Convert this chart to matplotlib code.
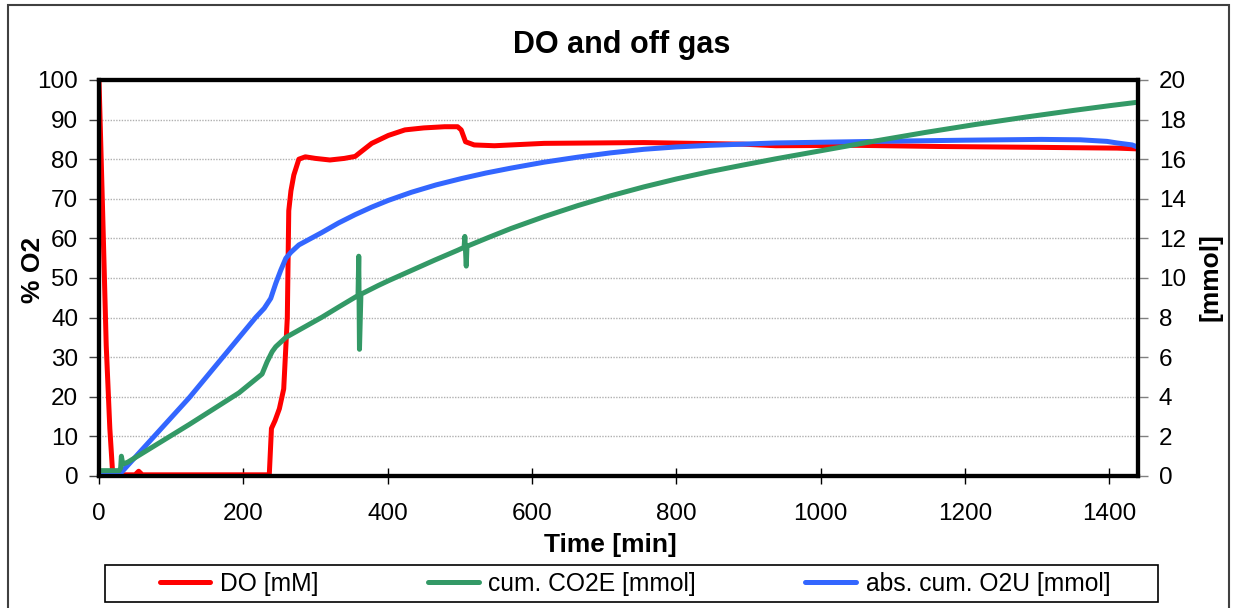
import matplotlib
matplotlib.use("Agg")
import matplotlib.pyplot as plt
from matplotlib.patches import Rectangle

# DO [%] on the left axis
do_time = [0, 5, 10, 15, 19, 25, 50, 55, 60, 100, 236, 239, 244, 250, 256, 261,
           263, 266, 270, 277, 286, 300, 320, 340, 355, 364, 378, 401, 424, 450,
           479, 497, 502, 508, 520, 548, 617, 755, 892, 938, 1050, 1168, 1300,
           1352, 1411, 1440]
do_value = [100, 67, 33, 12, 0.5, 0.3, 0.3, 1.2, 0.3, 0.3, 0.3, 12, 14, 17, 22, 40,
            67, 72, 76, 80, 80.6, 80.2, 79.8, 80.2, 80.7, 82, 84, 86, 87.4, 87.9,
            88.2, 88.2, 87.4, 84.4, 83.6, 83.4, 84, 84.2, 83.8, 83.4, 83.5, 83.2,
            83.0, 82.9, 82.8, 82.6]

# cumulative CO2 evolution [mmol], right axis
co2_time = [0, 28, 30, 31, 33, 40, 125, 194, 226, 233, 240, 245, 259, 286, 309,
            332, 355, 359, 360, 361, 363, 387, 401, 433, 465, 497, 506, 507, 509,
            510, 540, 571, 617, 663, 709, 755, 800, 846, 892, 938, 1007, 1076,
            1145, 1214, 1283, 1352, 1400, 1440]
co2_value = [0.27, 0.27, 0.4, 1.0, 0.6, 0.7, 2.6, 4.2, 5.15, 5.77, 6.28, 6.53, 7.0,
             7.55, 8.02, 8.53, 9.03, 9.12, 11.1, 6.4, 9.18, 9.62, 9.86, 10.38,
             10.9, 11.4, 11.55, 12.1, 10.6, 11.6, 12.05, 12.5, 13.1, 13.65, 14.15,
             14.6, 15.0, 15.37, 15.7, 16.02, 16.47, 16.92, 17.35, 17.75, 18.12,
             18.47, 18.7, 18.88]

# absolute cumulative O2 uptake [mmol], right axis
o2u_time = [0, 29, 125, 217, 229, 238, 245, 252, 259, 266, 277, 309, 332, 355, 378,
            401, 433, 467, 502, 536, 571, 617, 663, 709, 755, 800, 846, 938, 1076,
            1200, 1306, 1360, 1397, 1411, 1432, 1440]
o2u_value = [0.1, 0.1, 3.95, 8.0, 8.47, 8.97, 9.73, 10.4, 11.0, 11.3, 11.67, 12.3,
             12.78, 13.2, 13.58, 13.92, 14.33, 14.7, 15.02, 15.3, 15.55, 15.85,
             16.1, 16.32, 16.5, 16.62, 16.7, 16.82, 16.9, 16.96, 17.0, 16.98, 16.9,
             16.82, 16.72, 16.6]

x_ticks = [0, 200, 400, 600, 800, 1000, 1200, 1400]
left_ticks = list(range(0, 101, 10))
right_ticks = list(range(0, 21, 2))

plt.rcParams["font.family"] = ["Liberation Sans", "DejaVu Sans"]

W, H = 1237, 608
fig = plt.figure(figsize=(W / 100, H / 100), dpi=100)
ax = fig.add_axes([99 / W, 1 - 476 / H, (1138 - 99) / W, (476 - 80) / H])
ax2 = ax.twinx()

line_style = dict(lw=3.6, solid_capstyle="round", solid_joinstyle="round")
line_do, = ax.plot(do_time, do_value, color="#FF0000", label="DO [mM]",
                   **line_style)
line_o2u, = ax2.plot(o2u_time, o2u_value, color="#3366FF",
                     label="abs. cum. O2U [mmol]", **line_style)
line_co2, = ax2.plot(co2_time, co2_value, color="#339966",
                     label="cum. CO2E [mmol]", **line_style)

ax.set_xlim(0, 1440)
ax.set_ylim(0, 100)
ax2.set_ylim(0, 20)
ax.set_xticks(x_ticks)
ax.set_yticks(left_ticks)
ax2.set_yticks(right_ticks)

ax.grid(axis="y", color="#b0b0b0", linestyle=(0, (1, 1)), lw=1)
ax.set_axisbelow(True)

for a in (ax, ax2):
    for s in a.spines.values():
        s.set_linewidth(3)
        s.set_color("black")

ax.tick_params(axis="x", direction="inout", length=11, width=1,
               labelsize=17.5, pad=14, colors="black")
ax.tick_params(axis="y", direction="out", length=7, width=1,
               labelsize=17.5, pad=8, color="#404040")
ax2.tick_params(axis="y", direction="out", length=7, width=1,
                labelsize=17.5, pad=8, color="#808080")

fig.text(622 / W, 1 - 45 / H, "DO and off gas", ha="center", va="center",
         fontsize=22, fontweight="bold")
fig.text(33 / W, 1 - 270 / H, "% O2", ha="center", va="center",
         rotation=90, fontsize=19, fontweight="bold")
fig.text(1210 / W, 1 - 277 / H, "[mmol]", ha="center", va="center",
         rotation=90, fontsize=19, fontweight="bold")
fig.text(610 / W, 1 - 545 / H, "Time [min]", ha="center", va="center",
         fontsize=19, fontweight="bold")

# legend box and outer chart border
fig.patches.append(Rectangle((105 / W, 1 - 602 / H), (1158 - 105) / W, 37 / H,
                             transform=fig.transFigure, fill=False,
                             edgecolor="black", lw=1.2))
fig.patches.append(Rectangle((8 / W, -0.02), (1229 - 8) / W, 1.02 - 5 / H,
                             transform=fig.transFigure, fill=False,
                             edgecolor="#404040", lw=1.5))

handles = [line_do, line_co2, line_o2u]
fig.legend(handles, [h.get_label() for h in handles], loc="center",
           bbox_to_anchor=(635 / W, 1 - 584 / H), ncol=3, frameon=False,
           fontsize=17.7, handlelength=2.07, handletextpad=0.4,
           columnspacing=4.43)

fig.savefig("out.png", dpi=100)
